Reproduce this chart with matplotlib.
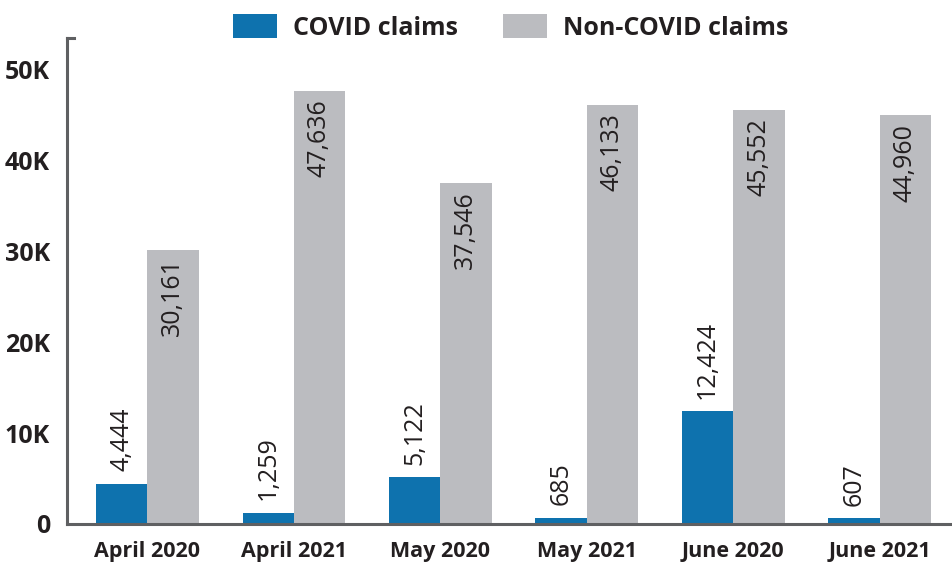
import matplotlib
matplotlib.use("Agg")
import matplotlib.pyplot as plt
import numpy as np

categories = ["April 2020", "April 2021", "May 2020", "May 2021", "June 2020", "June 2021"]
covid = [4444, 1259, 5122, 685, 12424, 607]
non_covid = [30161, 47636, 37546, 46133, 45552, 44960]
yticks = [0, 10000, 20000, 30000, 40000, 50000]
ytick_labels = ["0", "10K", "20K", "30K", "40K", "50K"]

BLUE = "#0E72AE"
GRAY = "#BBBCC0"
AXC = "#5F6062"
TXT = "#231F20"

plt.rcParams["font.family"] = ["Open Sans", "DejaVu Sans"]

fig = plt.figure(figsize=(9.53, 5.64), dpi=100)
ax = fig.add_axes([0.070, 0.071, 0.930, 0.862])

x = np.arange(len(categories))
w = 0.35
b1 = ax.bar(x - w / 2, covid, w, color=BLUE, label="COVID claims")
b2 = ax.bar(x + w / 2, non_covid, w, color=GRAY, label="Non-COVID claims")

for xi, v in zip(x, covid):
    ax.annotate(f"{v:,}", (xi - w / 2, v), xytext=(0, 9), textcoords="offset points",
                rotation=90, ha="center", va="bottom", fontsize=18, color=TXT)
for xi, v in zip(x, non_covid):
    ax.annotate(f"{v:,}", (xi + w / 2, v), xytext=(0, -6), textcoords="offset points",
                rotation=90, ha="center", va="top", fontsize=18, color=TXT)

ax.set_xlim(-0.55, len(categories) - 0.5)
ax.set_ylim(0, 53500)
ax.set_yticks(yticks)
ax.set_yticklabels(ytick_labels, fontsize=18, fontweight="bold", color=TXT)
ax.set_xticks(x)
ax.set_xticklabels(categories, fontsize=15.5, fontweight="bold", color=TXT)
ax.tick_params(axis="y", length=0, pad=12)
ax.tick_params(axis="x", length=0, pad=12)

for s in ["top", "right"]:
    ax.spines[s].set_visible(False)
for s in ["left", "bottom"]:
    ax.spines[s].set_color(AXC)
    ax.spines[s].set_linewidth(2.2)
# small cap at top of y axis
ax.plot([0, 0.008], [1, 1], transform=ax.transAxes, color=AXC, lw=2.2, clip_on=False)

leg = fig.legend(handles=[b1, b2], loc="upper center", bbox_to_anchor=(0.536, 1.015), ncol=2,
                 frameon=False, prop={"weight": "bold", "size": 18},
                 handlelength=1.75, handleheight=1.1, columnspacing=1.8, handletextpad=0.65)
for t in leg.get_texts():
    t.set_color(TXT)

fig.savefig("out.png", dpi=100)
